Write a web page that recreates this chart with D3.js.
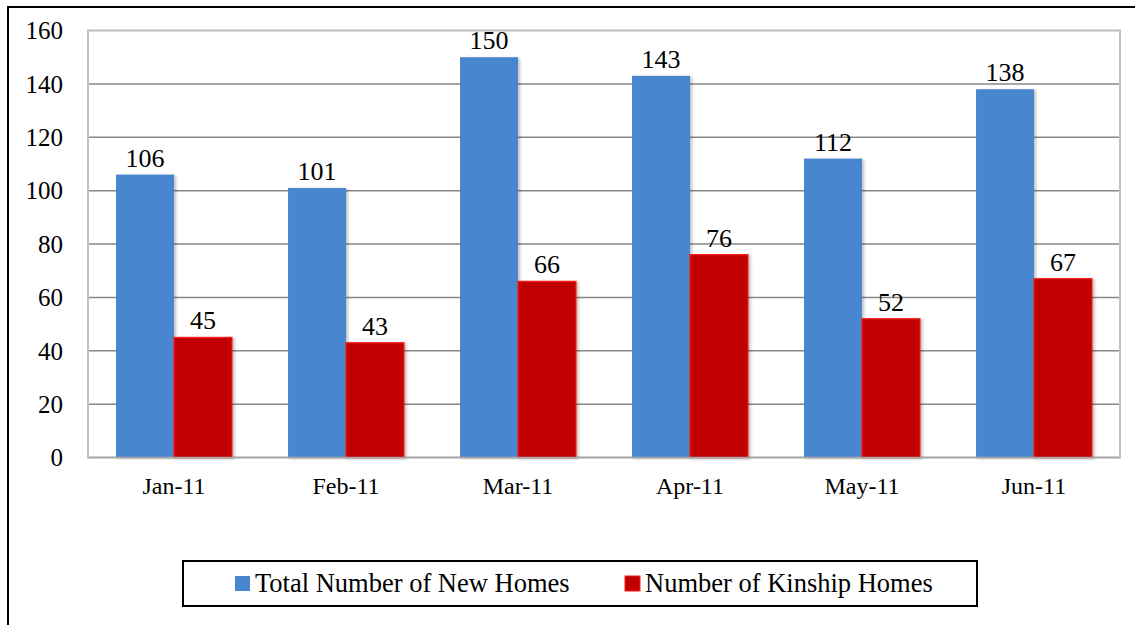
<!DOCTYPE html>
<html><head><meta charset="utf-8">
<script src="https://cdn.jsdelivr.net/npm/d3@7"></script>
<style>html,body{margin:0;padding:0;background:#fff;overflow:hidden}</style>
</head><body>
<svg id="chart" width="1135" height="625"></svg>
<script>
const categories = ["Jan-11","Feb-11","Mar-11","Apr-11","May-11","Jun-11"];
const seriesNames = ["Total Number of New Homes","Number of Kinship Homes"];
const totalHomes = [106,101,150,143,112,138];
const kinshipHomes = [45,43,66,76,52,67];
const yTicks = [0,20,40,60,80,100,120,140,160];

const colors = ["#4a86d0","#c00000"];
const strokes = ["#4a86d0","#ff1a1a"];
const font = "'Liberation Serif','Times New Roman',serif";

const svg = d3.select("#chart");
const defs = svg.append("defs");
const f = defs.append("filter").attr("id","sh").attr("x","-10%").attr("y","-10%").attr("width","130%").attr("height","120%");
f.append("feDropShadow").attr("dx",2).attr("dy",1).attr("stdDeviation",1.5).attr("flood-color","#000").attr("flood-opacity",0.25);

// outer border
svg.append("rect").attr("x",8).attr("y",7).attr("width",1200).attr("height",700)
  .attr("fill","#fff").attr("stroke","#000").attr("stroke-width",2);

const L = 88, R = 1120, T = 30.5, B = 457.5;
const x = d3.scaleBand().domain(categories).range([L,R]).paddingInner(0.326).paddingOuter(0.163);
const y = d3.scaleLinear().domain([0,160]).range([B,T]);
const xs = d3.scaleBand().domain([0,1]).range([0,x.bandwidth()]);

// gridlines
svg.append("g").selectAll("line").data(yTicks.filter(d=>d>0 && d<160)).join("line")
  .attr("x1",L).attr("x2",R).attr("y1",d=>y(d)).attr("y2",d=>y(d))
  .attr("stroke","#878787").attr("stroke-width",1.5);
// plot border
svg.append("rect").attr("x",L).attr("y",T).attr("width",R-L).attr("height",B-T)
  .attr("fill","none").attr("stroke","#bfbfbf").attr("stroke-width",2);

// y tick labels via axis
const yAxis = svg.append("g").attr("transform",`translate(${L},0)`)
  .call(d3.axisLeft(y).tickValues(yTicks).tickSize(0).tickPadding(25));
yAxis.select(".domain").remove();
yAxis.selectAll("text").attr("font-family",font).attr("font-size",25).attr("fill","#000").attr("dy","0.33em");

const series = [totalHomes, kinshipHomes];
series.forEach((vals,si)=>{
  const g = svg.append("g");
  g.selectAll("rect").data(vals).join("rect")
    .attr("x",(d,i)=>x(categories[i])+xs(si))
    .attr("width",xs.bandwidth())
    .attr("y",d=>y(d)).attr("height",d=>B-y(d))
    .attr("fill",colors[si]).attr("stroke",strokes[si]).attr("stroke-width",si?1.2:0)
    .attr("filter","url(#sh)");
  g.selectAll("text").data(vals).join("text")
    .attr("x",(d,i)=>x(categories[i])+xs(si)+xs.bandwidth()/2)
    .attr("y",d=>y(d)-8)
    .attr("text-anchor","middle").attr("font-family",font).attr("font-size",26).attr("fill","#000")
    .text(d=>d);
});

// baseline
svg.append("line").attr("x1",L).attr("x2",R).attr("y1",B).attr("y2",B).attr("stroke","#a6a6a6").attr("stroke-width",1.5);

// x axis labels
const xAxis = svg.append("g").attr("transform",`translate(0,${B})`)
  .call(d3.axisBottom(x).tickSize(0).tickPadding(19));
xAxis.select(".domain").remove();
xAxis.selectAll("text").attr("font-family",font).attr("font-size",24).attr("fill","#000");

// legend
svg.append("rect").attr("x",183).attr("y",561).attr("width",794).attr("height",45)
  .attr("fill","#fff").attr("stroke","#000").attr("stroke-width",2);
const legX = [235,625];
seriesNames.forEach((n,i)=>{
  svg.append("rect").attr("x",legX[i]).attr("y",576).attr("width",15).attr("height",15)
    .attr("fill",colors[i]).attr("stroke",strokes[i]).attr("stroke-width",i?1:0);
  svg.append("text").attr("x",legX[i]+20).attr("y",592).attr("font-family",font).attr("font-size",26.5)
    .attr("fill","#000").text(n);
});
</script>
</body></html>
